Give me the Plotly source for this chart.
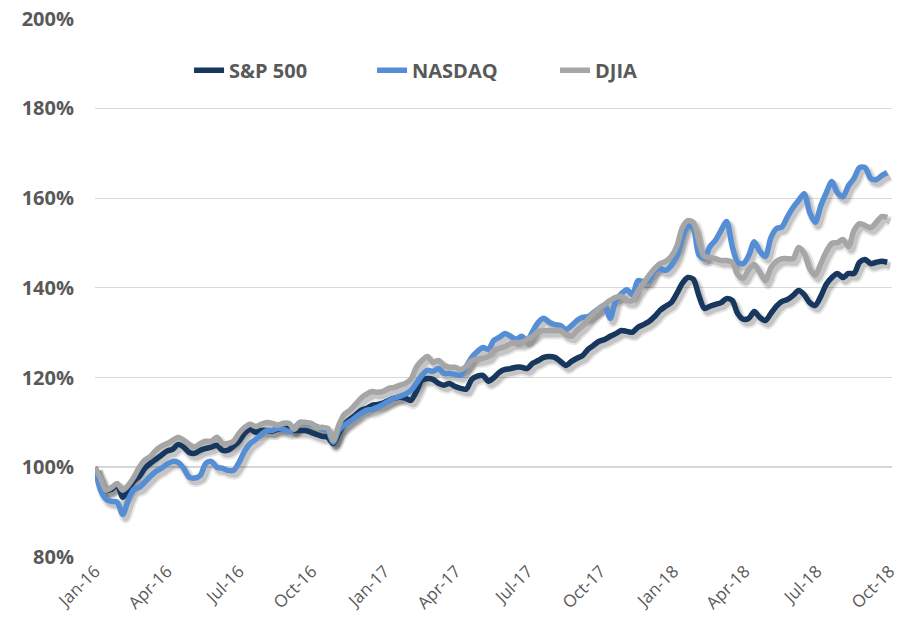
import pandas as pd
import plotly.graph_objects as go

# ---------------- data (weekly, index = 1.00 on first week) ----------------
dates = pd.date_range(start="2016-01-01", periods=144, freq="7D")

sp500 = [100.0, 97.1, 94.9, 95.1, 96.2, 93.3, 95.1, 96.9, 98.0, 99.8,
         100.9, 101.8, 102.7, 103.6, 104.0, 105.1, 104.5, 103.3, 103.1, 103.8,
         104.2, 104.5, 104.9, 103.8, 103.8, 104.7, 105.8, 107.6, 108.5, 107.8,
         108.2, 108.2, 108.0, 108.5, 108.7, 108.7, 108.2, 108.2, 108.2, 107.8,
         107.3, 106.9, 106.7, 105.3, 107.6, 109.6, 110.7, 111.6, 112.7, 113.1,
         113.8, 114.0, 114.3, 114.9, 115.4, 115.6, 115.4, 114.9, 116.9, 119.4,
         119.8, 119.6, 118.7, 118.3, 118.7, 118.0, 117.6, 117.4, 119.6, 120.3,
         120.5, 119.2, 120.0, 121.2, 121.8, 122.0, 122.3, 122.3, 122.0, 123.2,
         123.8, 124.5, 124.7, 124.5, 123.6, 122.7, 123.6, 124.3, 124.9, 126.3,
         127.2, 128.1, 128.5, 129.2, 129.8, 130.5, 130.3, 130.1, 131.2, 131.8,
         132.5, 133.6, 135.0, 135.9, 136.7, 138.7, 141.0, 142.3, 141.9, 138.3,
         135.4, 135.9, 136.3, 136.7, 137.6, 137.2, 134.3, 133.0, 133.2, 134.7,
         133.4, 132.7, 134.3, 135.9, 137.0, 137.4, 138.3, 139.4, 138.5, 136.7,
         136.1, 138.1, 140.8, 142.3, 143.2, 142.3, 143.2, 143.2, 145.7, 146.3,
         145.4, 145.7, 145.9, 145.7]

nasdaq = [100.0, 94.9, 92.9, 92.4, 92.2, 89.5, 92.7, 95.1, 95.5, 96.7,
          98.0, 99.1, 99.8, 100.7, 101.3, 101.1, 99.8, 97.8, 97.6, 98.2,
          100.9, 101.3, 100.0, 99.8, 99.3, 99.3, 101.1, 103.6, 105.3, 106.2,
          107.3, 108.2, 108.2, 108.7, 108.5, 108.0, 108.7, 110.0, 109.8, 109.6,
          109.1, 108.5, 108.2, 105.6, 108.2, 109.4, 110.2, 111.1, 112.0, 112.7,
          112.9, 113.4, 114.0, 114.7, 115.4, 115.8, 116.3, 117.1, 118.7, 120.5,
          121.6, 121.4, 122.0, 120.9, 120.9, 120.7, 120.5, 122.5, 124.5, 125.8,
          126.7, 126.3, 128.3, 129.0, 129.8, 129.2, 128.5, 129.2, 128.3, 130.3,
          132.3, 133.2, 132.3, 131.8, 131.6, 130.7, 131.6, 132.7, 133.4, 133.6,
          134.5, 135.4, 136.1, 133.2, 137.2, 138.7, 139.6, 138.5, 141.6, 141.4,
          141.6, 143.9, 144.3, 143.9, 145.0, 147.2, 151.2, 153.9, 153.2, 147.4,
          146.5, 149.2, 150.6, 152.8, 154.8, 149.4, 145.7, 145.4, 147.2, 150.3,
          148.1, 147.0, 151.2, 153.2, 153.6, 155.9, 157.9, 159.5, 161.0, 156.8,
          154.6, 158.3, 161.2, 163.7, 161.2, 160.3, 162.8, 164.4, 166.8, 166.8,
          164.4, 164.1, 165.0, 165.7]

djia = [100.0, 97.6, 94.9, 95.5, 96.4, 94.9, 96.0, 97.8, 100.0, 101.6,
        102.4, 103.8, 104.7, 105.3, 106.0, 106.7, 106.0, 105.1, 104.5, 105.3,
        105.8, 105.8, 106.7, 105.3, 105.3, 105.8, 107.6, 108.9, 109.6, 109.1,
        109.6, 110.0, 109.8, 109.4, 109.8, 109.8, 108.5, 110.0, 110.0, 109.8,
        108.9, 108.9, 108.7, 106.0, 109.4, 111.8, 112.7, 114.0, 115.4, 116.3,
        116.9, 116.7, 116.9, 117.6, 117.8, 118.3, 118.7, 119.6, 122.3, 123.8,
        124.7, 123.4, 123.8, 122.7, 122.3, 122.3, 121.8, 122.5, 123.8, 124.1,
        124.3, 124.7, 126.1, 126.5, 126.9, 127.6, 127.8, 127.8, 128.5, 129.2,
        130.3, 130.5, 130.5, 130.5, 130.5, 129.6, 129.2, 130.5, 131.6, 133.0,
        134.3, 135.4, 136.3, 137.2, 137.9, 138.1, 137.2, 137.2, 139.2, 141.0,
        142.8, 144.3, 145.4, 145.9, 147.0, 149.2, 153.4, 155.0, 154.6, 150.3,
        147.0, 146.8, 146.5, 146.1, 146.1, 145.7, 143.0, 142.1, 144.1, 145.2,
        143.4, 141.6, 144.5, 145.9, 146.5, 146.5, 146.5, 149.0, 147.7, 144.3,
        142.8, 145.4, 148.1, 149.9, 150.1, 150.8, 149.2, 152.8, 154.3, 153.9,
        153.4, 154.6, 155.9, 155.7]

series_names = ["S&P 500", "NASDAQ", "DJIA"]
series_values = [sp500, nasdaq, djia]
series_colors = ["#17375E", "#558ED5", "#A6A6A6"]

tick_dates = ["2016-01-01", "2016-04-01", "2016-07-01", "2016-10-01",
              "2017-01-01", "2017-04-01", "2017-07-01", "2017-10-01",
              "2018-01-01", "2018-04-01", "2018-07-01", "2018-10-01"]
tick_labels = ["Jan-16", "Apr-16", "Jul-16", "Oct-16", "Jan-17", "Apr-17",
               "Jul-17", "Oct-17", "Jan-18", "Apr-18", "Jul-18", "Oct-18"]
y_ticks = [80, 100, 120, 140, 160, 180, 200]
y_tick_labels = ["80%", "100%", "120%", "140%", "160%", "180%", "200%"]

# ---------------- layout geometry ----------------
W, H = 912, 633
ML, MR, MT, MB = 95, 20, 18, 76
plot_w = W - ML - MR
plot_h = H - MT - MB

x_start = pd.Timestamp("2016-01-01")
x_end = pd.Timestamp("2018-10-04")
y_lo, y_hi = 80, 200.15

# shadow offset (px) -> axis range shift
sh_dx, sh_dy = 3, 4
days_per_px = (x_end - x_start) / plot_w
val_per_px = (y_hi - y_lo) / plot_h
x_range = [x_start, x_end]
x_range_sh = [x_start - sh_dx * days_per_px, x_end - sh_dx * days_per_px]
y_range_sh = [y_lo + sh_dy * val_per_px, y_hi + sh_dy * val_per_px]

fig = go.Figure()

# shadows (same data, on slightly shifted overlay axes)
for vals in series_values:
    fig.add_trace(go.Scatter(
        x=dates, y=vals, mode="lines", xaxis="x2", yaxis="y2",
        line=dict(color="rgba(0,0,0,0.09)", width=10, shape="spline", smoothing=0.8),
        hoverinfo="skip", showlegend=False))
    fig.add_trace(go.Scatter(
        x=dates, y=vals, mode="lines", xaxis="x2", yaxis="y2",
        line=dict(color="rgba(0,0,0,0.15)", width=6, shape="spline", smoothing=0.8),
        hoverinfo="skip", showlegend=False))

# main lines
for name, vals, col in zip(series_names, series_values, series_colors):
    fig.add_trace(go.Scatter(
        x=dates, y=vals, mode="lines", name=name, xaxis="x3", yaxis="y3",
        line=dict(color=col, width=5.5, shape="spline", smoothing=0.8)))

label_color = "#595959"
fig.update_layout(
    width=W, height=H,
    margin=dict(l=ML, r=MR, t=MT, b=MB, autoexpand=False),
    paper_bgcolor="white", plot_bgcolor="white",
    font=dict(family="Open Sans", color=label_color),
    xaxis=dict(range=x_range, type="date", tickvals=tick_dates, ticktext=tick_labels,
               tickangle=-45, showgrid=False, zeroline=False, showline=False, ticks="",
               automargin=False, ticklabeloverflow="allow",
               tickfont=dict(family="Open Sans", size=17, color=label_color)),
    yaxis=dict(range=[y_lo, y_hi], tickvals=y_ticks, ticktext=y_tick_labels,
               showgrid=True, gridcolor="#D9D9D9", gridwidth=1, zeroline=False,
               showline=False, ticks="", ticklabelstandoff=20, automargin=False,
               ticklabeloverflow="allow",
               tickfont=dict(family="Open Sans", size=20, color=label_color, weight="bold")),
    xaxis2=dict(range=x_range_sh, type="date", overlaying="x", visible=False),
    yaxis2=dict(range=y_range_sh, overlaying="y", visible=False),
    xaxis3=dict(range=x_range, type="date", overlaying="x", visible=False),
    yaxis3=dict(range=[y_lo, y_hi], overlaying="y", visible=False),
    legend=dict(orientation="h", x=0.118, xanchor="left", y=0.903, yanchor="middle",
                entrywidth=138, entrywidthmode="pixels", bgcolor="rgba(0,0,0,0)",
                font=dict(family="Open Sans", size=20, color=label_color, weight="bold")),
    shapes=[dict(type="line", xref="paper", x0=0, x1=1, yref="y", y0=100, y1=100,
                 line=dict(color="#404040", width=1), layer="below")],
    showlegend=True,
)

fig.write_html("out.html", config={"displayModeBar": False},
               post_script="document.body.style.margin='0';")
